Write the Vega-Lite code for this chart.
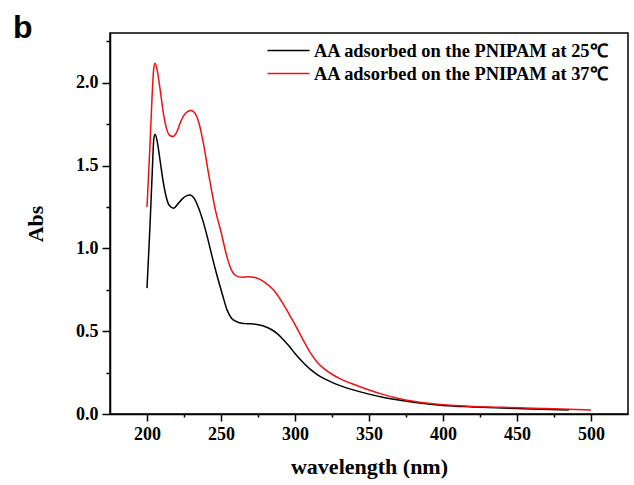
{
  "$schema": "https://vega.github.io/schema/vega-lite/v6.json",
  "width": 518,
  "height": 381,
  "autosize": {"type": "none"},
  "padding": {"left": 110, "top": 33, "right": 6, "bottom": 71},
  "background": "white",
  "title": {"text": "b", "anchor": "start", "frame": "group", "orient": "top", "font": "Liberation Sans", "fontSize": 32, "fontWeight": "bold", "color": "black", "baseline": "alphabetic", "offset": 0, "dx": -97, "dy": 37},
  "config": {
    "view": {"stroke": "black", "strokeWidth": 1.5},
    "axis": {"domainColor": "black", "domainWidth": 1.5, "tickColor": "black", "tickWidth": 1.5, "grid": false, "labelFont": "Liberation Serif", "labelFontSize": 18, "labelFontWeight": "bold", "labelColor": "black", "titleFont": "Liberation Serif", "titleFontSize": 22, "titleFontWeight": "bold", "titleColor": "black"}
  },
  "data": {"values": [
    {"series": "AA adsorbed on the PNIPAM at 25℃", "wavelength": 200, "abs": 0.76},
    {"series": "AA adsorbed on the PNIPAM at 25℃", "wavelength": 202, "abs": 1.13},
    {"series": "AA adsorbed on the PNIPAM at 25℃", "wavelength": 203.5, "abs": 1.45},
    {"series": "AA adsorbed on the PNIPAM at 25℃", "wavelength": 204.6, "abs": 1.66},
    {"series": "AA adsorbed on the PNIPAM at 25℃", "wavelength": 205.5, "abs": 1.689},
    {"series": "AA adsorbed on the PNIPAM at 25℃", "wavelength": 207, "abs": 1.64},
    {"series": "AA adsorbed on the PNIPAM at 25℃", "wavelength": 209, "abs": 1.52},
    {"series": "AA adsorbed on the PNIPAM at 25℃", "wavelength": 211, "abs": 1.40},
    {"series": "AA adsorbed on the PNIPAM at 25℃", "wavelength": 213, "abs": 1.31},
    {"series": "AA adsorbed on the PNIPAM at 25℃", "wavelength": 215, "abs": 1.26},
    {"series": "AA adsorbed on the PNIPAM at 25℃", "wavelength": 218, "abs": 1.242},
    {"series": "AA adsorbed on the PNIPAM at 25℃", "wavelength": 221, "abs": 1.27},
    {"series": "AA adsorbed on the PNIPAM at 25℃", "wavelength": 224, "abs": 1.30},
    {"series": "AA adsorbed on the PNIPAM at 25℃", "wavelength": 227, "abs": 1.318},
    {"series": "AA adsorbed on the PNIPAM at 25℃", "wavelength": 229, "abs": 1.322},
    {"series": "AA adsorbed on the PNIPAM at 25℃", "wavelength": 232, "abs": 1.30},
    {"series": "AA adsorbed on the PNIPAM at 25℃", "wavelength": 235, "abs": 1.24},
    {"series": "AA adsorbed on the PNIPAM at 25℃", "wavelength": 238, "abs": 1.16},
    {"series": "AA adsorbed on the PNIPAM at 25℃", "wavelength": 241, "abs": 1.06},
    {"series": "AA adsorbed on the PNIPAM at 25℃", "wavelength": 244, "abs": 0.95},
    {"series": "AA adsorbed on the PNIPAM at 25℃", "wavelength": 247.5, "abs": 0.83},
    {"series": "AA adsorbed on the PNIPAM at 25℃", "wavelength": 251, "abs": 0.72},
    {"series": "AA adsorbed on the PNIPAM at 25℃", "wavelength": 254, "abs": 0.63},
    {"series": "AA adsorbed on the PNIPAM at 25℃", "wavelength": 257, "abs": 0.58},
    {"series": "AA adsorbed on the PNIPAM at 25℃", "wavelength": 260, "abs": 0.56},
    {"series": "AA adsorbed on the PNIPAM at 25℃", "wavelength": 264, "abs": 0.548},
    {"series": "AA adsorbed on the PNIPAM at 25℃", "wavelength": 268, "abs": 0.545},
    {"series": "AA adsorbed on the PNIPAM at 25℃", "wavelength": 272, "abs": 0.543},
    {"series": "AA adsorbed on the PNIPAM at 25℃", "wavelength": 276, "abs": 0.537},
    {"series": "AA adsorbed on the PNIPAM at 25℃", "wavelength": 280, "abs": 0.527},
    {"series": "AA adsorbed on the PNIPAM at 25℃", "wavelength": 284, "abs": 0.51},
    {"series": "AA adsorbed on the PNIPAM at 25℃", "wavelength": 288, "abs": 0.485},
    {"series": "AA adsorbed on the PNIPAM at 25℃", "wavelength": 292, "abs": 0.45},
    {"series": "AA adsorbed on the PNIPAM at 25℃", "wavelength": 296, "abs": 0.41},
    {"series": "AA adsorbed on the PNIPAM at 25℃", "wavelength": 300, "abs": 0.365},
    {"series": "AA adsorbed on the PNIPAM at 25℃", "wavelength": 305, "abs": 0.315},
    {"series": "AA adsorbed on the PNIPAM at 25℃", "wavelength": 310, "abs": 0.272},
    {"series": "AA adsorbed on the PNIPAM at 25℃", "wavelength": 315, "abs": 0.238},
    {"series": "AA adsorbed on the PNIPAM at 25℃", "wavelength": 320, "abs": 0.212},
    {"series": "AA adsorbed on the PNIPAM at 25℃", "wavelength": 325, "abs": 0.191},
    {"series": "AA adsorbed on the PNIPAM at 25℃", "wavelength": 330, "abs": 0.173},
    {"series": "AA adsorbed on the PNIPAM at 25℃", "wavelength": 340, "abs": 0.144},
    {"series": "AA adsorbed on the PNIPAM at 25℃", "wavelength": 350, "abs": 0.12},
    {"series": "AA adsorbed on the PNIPAM at 25℃", "wavelength": 360, "abs": 0.10},
    {"series": "AA adsorbed on the PNIPAM at 25℃", "wavelength": 370, "abs": 0.084},
    {"series": "AA adsorbed on the PNIPAM at 25℃", "wavelength": 380, "abs": 0.071},
    {"series": "AA adsorbed on the PNIPAM at 25℃", "wavelength": 390, "abs": 0.06},
    {"series": "AA adsorbed on the PNIPAM at 25℃", "wavelength": 400, "abs": 0.052},
    {"series": "AA adsorbed on the PNIPAM at 25℃", "wavelength": 420, "abs": 0.043},
    {"series": "AA adsorbed on the PNIPAM at 25℃", "wavelength": 440, "abs": 0.036},
    {"series": "AA adsorbed on the PNIPAM at 25℃", "wavelength": 460, "abs": 0.03},
    {"series": "AA adsorbed on the PNIPAM at 25℃", "wavelength": 485, "abs": 0.024},
    {"series": "AA adsorbed on the PNIPAM at 37℃", "wavelength": 200, "abs": 1.25},
    {"series": "AA adsorbed on the PNIPAM at 37℃", "wavelength": 202, "abs": 1.62},
    {"series": "AA adsorbed on the PNIPAM at 37℃", "wavelength": 203.5, "abs": 1.93},
    {"series": "AA adsorbed on the PNIPAM at 37℃", "wavelength": 204.6, "abs": 2.09},
    {"series": "AA adsorbed on the PNIPAM at 37℃", "wavelength": 205.5, "abs": 2.118},
    {"series": "AA adsorbed on the PNIPAM at 37℃", "wavelength": 207, "abs": 2.07},
    {"series": "AA adsorbed on the PNIPAM at 37℃", "wavelength": 209, "abs": 1.95},
    {"series": "AA adsorbed on the PNIPAM at 37℃", "wavelength": 211, "abs": 1.82},
    {"series": "AA adsorbed on the PNIPAM at 37℃", "wavelength": 213, "abs": 1.73},
    {"series": "AA adsorbed on the PNIPAM at 37℃", "wavelength": 215, "abs": 1.685},
    {"series": "AA adsorbed on the PNIPAM at 37℃", "wavelength": 217.5, "abs": 1.675},
    {"series": "AA adsorbed on the PNIPAM at 37℃", "wavelength": 220, "abs": 1.70},
    {"series": "AA adsorbed on the PNIPAM at 37℃", "wavelength": 223, "abs": 1.77},
    {"series": "AA adsorbed on the PNIPAM at 37℃", "wavelength": 226, "abs": 1.815},
    {"series": "AA adsorbed on the PNIPAM at 37℃", "wavelength": 229.5, "abs": 1.832},
    {"series": "AA adsorbed on the PNIPAM at 37℃", "wavelength": 232, "abs": 1.82},
    {"series": "AA adsorbed on the PNIPAM at 37℃", "wavelength": 235, "abs": 1.76},
    {"series": "AA adsorbed on the PNIPAM at 37℃", "wavelength": 238, "abs": 1.64},
    {"series": "AA adsorbed on the PNIPAM at 37℃", "wavelength": 242, "abs": 1.43},
    {"series": "AA adsorbed on the PNIPAM at 37℃", "wavelength": 246, "abs": 1.24},
    {"series": "AA adsorbed on the PNIPAM at 37℃", "wavelength": 250, "abs": 1.10},
    {"series": "AA adsorbed on the PNIPAM at 37℃", "wavelength": 254, "abs": 0.95},
    {"series": "AA adsorbed on the PNIPAM at 37℃", "wavelength": 257, "abs": 0.87},
    {"series": "AA adsorbed on the PNIPAM at 37℃", "wavelength": 260, "abs": 0.835},
    {"series": "AA adsorbed on the PNIPAM at 37℃", "wavelength": 264, "abs": 0.825},
    {"series": "AA adsorbed on the PNIPAM at 37℃", "wavelength": 268, "abs": 0.829},
    {"series": "AA adsorbed on the PNIPAM at 37℃", "wavelength": 272, "abs": 0.826},
    {"series": "AA adsorbed on the PNIPAM at 37℃", "wavelength": 276, "abs": 0.814},
    {"series": "AA adsorbed on the PNIPAM at 37℃", "wavelength": 280, "abs": 0.792},
    {"series": "AA adsorbed on the PNIPAM at 37℃", "wavelength": 284, "abs": 0.762},
    {"series": "AA adsorbed on the PNIPAM at 37℃", "wavelength": 288, "abs": 0.72},
    {"series": "AA adsorbed on the PNIPAM at 37℃", "wavelength": 292, "abs": 0.665},
    {"series": "AA adsorbed on the PNIPAM at 37℃", "wavelength": 296, "abs": 0.603},
    {"series": "AA adsorbed on the PNIPAM at 37℃", "wavelength": 300, "abs": 0.54},
    {"series": "AA adsorbed on the PNIPAM at 37℃", "wavelength": 305, "abs": 0.455},
    {"series": "AA adsorbed on the PNIPAM at 37℃", "wavelength": 310, "abs": 0.375},
    {"series": "AA adsorbed on the PNIPAM at 37℃", "wavelength": 315, "abs": 0.313},
    {"series": "AA adsorbed on the PNIPAM at 37℃", "wavelength": 320, "abs": 0.271},
    {"series": "AA adsorbed on the PNIPAM at 37℃", "wavelength": 325, "abs": 0.24},
    {"series": "AA adsorbed on the PNIPAM at 37℃", "wavelength": 330, "abs": 0.215},
    {"series": "AA adsorbed on the PNIPAM at 37℃", "wavelength": 340, "abs": 0.178},
    {"series": "AA adsorbed on the PNIPAM at 37℃", "wavelength": 350, "abs": 0.145},
    {"series": "AA adsorbed on the PNIPAM at 37℃", "wavelength": 360, "abs": 0.117},
    {"series": "AA adsorbed on the PNIPAM at 37℃", "wavelength": 370, "abs": 0.094},
    {"series": "AA adsorbed on the PNIPAM at 37℃", "wavelength": 380, "abs": 0.077},
    {"series": "AA adsorbed on the PNIPAM at 37℃", "wavelength": 390, "abs": 0.065},
    {"series": "AA adsorbed on the PNIPAM at 37℃", "wavelength": 400, "abs": 0.056},
    {"series": "AA adsorbed on the PNIPAM at 37℃", "wavelength": 420, "abs": 0.046},
    {"series": "AA adsorbed on the PNIPAM at 37℃", "wavelength": 440, "abs": 0.04},
    {"series": "AA adsorbed on the PNIPAM at 37℃", "wavelength": 460, "abs": 0.035},
    {"series": "AA adsorbed on the PNIPAM at 37℃", "wavelength": 480, "abs": 0.03},
    {"series": "AA adsorbed on the PNIPAM at 37℃", "wavelength": 500, "abs": 0.024}
  ]},
  "mark": {"type": "line", "interpolate": "monotone", "strokeWidth": 1.5},
  "encoding": {
    "x": {"field": "wavelength", "type": "quantitative", "scale": {"domain": [175, 525], "nice": false, "zero": false},
      "axis": {"title": "wavelength (nm)", "values": [200, 225, 250, 275, 300, 325, 350, 375, 400, 425, 450, 475, 500], "format": "d", "labelExpr": "datum.value % 50 == 0 ? datum.label : ''", "tickSize": {"condition": {"test": "datum.value % 50 != 0", "value": 3}, "value": 7}, "labelPadding": 4, "titlePadding": 13}},
    "y": {"field": "abs", "type": "quantitative", "scale": {"domain": [0, 2.3], "nice": false},
      "axis": {"title": "Abs", "values": [0, 0.25, 0.5, 0.75, 1, 1.25, 1.5, 1.75, 2, 2.25], "format": ".1f", "labelExpr": "datum.value % 0.5 == 0 ? datum.label : ''", "tickSize": {"condition": {"test": "datum.value % 0.5 != 0", "value": 4}, "value": 8}, "labelPadding": 4, "titlePadding": 28}},
    "color": {"field": "series", "type": "nominal",
      "scale": {"domain": ["AA adsorbed on the PNIPAM at 25℃", "AA adsorbed on the PNIPAM at 37℃"], "range": ["black", "#f01010"]},
      "legend": {"orient": "none", "legendX": 167, "legendY": 6, "title": null, "padding": 0, "labelLimit": 0, "labelFont": "Liberation Serif", "labelFontSize": 18.4, "labelFontWeight": "bold", "labelColor": "black", "symbolType": "M-2,0H2", "symbolSize": 441, "symbolStrokeWidth": 1.5, "labelOffset": 14, "rowPadding": 2}}
  }
}
